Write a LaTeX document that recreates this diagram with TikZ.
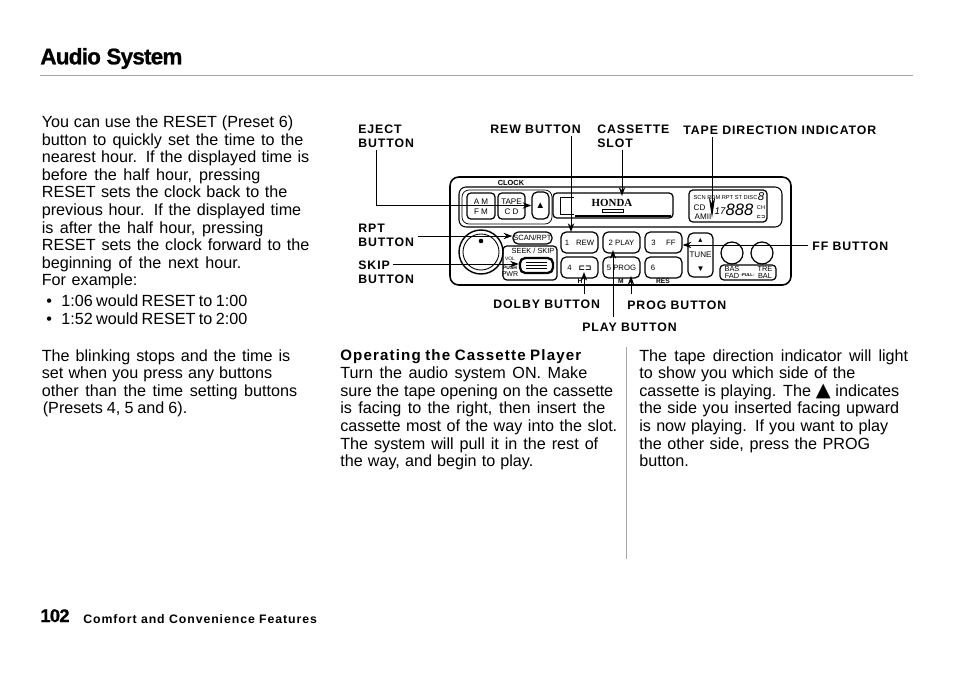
\documentclass[tikz,border=0pt]{standalone}
\usepackage{fontspec}
\setmainfont{Liberation Sans}
\newfontfamily\serifbold{Liberation Serif}
\newfontfamily\symfont{DejaVu Sans}
\newfontfamily\lblfont[LetterSpace=7.5]{Liberation Sans}
\newfontfamily\heavyfont[BoldFeatures={FakeBold=1},LetterSpace=-3.5]{Liberation Sans}
\usepackage{tikz}
\usetikzlibrary{shapes,positioning,arrows.meta}
\newcommand{\fitw}[2]{\makebox[\dimexpr#1pt*569/1000\relax][s]{#2}}
\tikzset{
  txt/.style={anchor=base west,inner sep=0pt,font=\fontsize{9.2}{10}\selectfont},
  head/.style={txt,font=\fontsize{8.6}{10}\lblfont\bfseries},
  lbl/.style={anchor=base west,inner sep=0pt,font=\fontsize{7}{8}\lblfont\bfseries},
  arr/.style={-{Stealth[length=5pt,width=3.6pt]},line width=0.55pt},
  arrlong/.style={-{Stealth[length=12pt,width=3.6pt]},line width=0.55pt},
  box/.style={draw,rounded corners=2.2pt,line width=0.7pt,inner sep=0pt},
  key/.style={box,rounded corners=3pt,minimum width=37*0.569pt,minimum height=21*0.569pt,font=\fontsize{4.4}{5}\selectfont},
  tiny/.style={inner sep=0pt,font=\fontsize{4.6}{5}\selectfont}
}
\begin{document}
\begin{tikzpicture}[x=0.02cm,y=-0.02cm]
    \useasboundingbox (0,0) rectangle (960,676);
    % page header and footer
    \node[anchor=base west,inner sep=0pt,font=\fontsize{12.8}{14}\heavyfont\bfseries] (title)at (40,64.3) {Audio System};
    \draw [gray!70,line width=0.5pt] (40,75.7) -- (913,75.7);
    \node[anchor=base west,inner sep=0pt,font=\fontsize{10.4}{12}\heavyfont\bfseries] (pageno)at (40,622) {102};
    \node[anchor=base west,inner sep=0pt,font=\fontsize{7}{8}\lblfont\bfseries] (footer)at (83,623.5) {Comfort and Convenience Features};
    \draw [gray!70,line width=0.4pt] (626.5,347) -- (626.5,559);

    % left column
    \node[txt] (l1)at (41.5,127.5) {\fitw{251.5}{You can use the RESET (Preset 6)}};
    \node[txt] (l2)at (41.5,145.1) {\fitw{261.5}{button to quickly set the time to the}};
    \node[txt] (l3)at (41.5,162.7) {\fitw{267.5}{nearest hour. If the displayed time is}};
    \node[txt] (l4)at (41.5,180.3) {\fitw{218.5}{before the half hour, pressing}};
    \node[txt] (l5)at (41.5,197.9) {\fitw{245.5}{RESET sets the clock back to the}};
    \node[txt] (l6)at (41.5,215.5) {\fitw{259.5}{previous hour. If the displayed time}};
    \node[txt] (l7)at (41.5,233.1) {\fitw{221.5}{is after the half hour, pressing}};
    \node[txt] (l8)at (41.5,250.7) {\fitw{267.5}{RESET sets the clock forward to the}};
    \node[txt] (l9)at (41.5,268.3) {\fitw{199.5}{beginning of the next hour.}};
    \node[txt] (l10)at (41.5,285.9) {\fitw{95.5}{For example:}};
    \node[txt] (b1)at (46,306.7) {•};
    \node[txt] (l11)at (61,306.7) {\fitw{186}{1:06 would RESET to 1:00}};
    \node[txt] (b2)at (46,324.3) {•};
    \node[txt] (l12)at (61,324.3) {\fitw{186}{1:52 would RESET to 2:00}};
    \node[txt] (l13)at (41.5,361) {\fitw{248.5}{The blinking stops and the time is}};
    \node[txt] (l14)at (41.5,378.6) {\fitw{230.5}{set when you press any buttons}};
    \node[txt] (l15)at (41.5,396.2) {\fitw{255.5}{other than the time setting buttons}};
    \node[txt] (l16)at (42.5,413.8) {\fitw{144.5}{(Presets 4, 5 and 6).}};

    % middle column
    \node[head] (m0)at (340,360.5) {\fitw{241}{Operating the Cassette Player}};
    \node[txt] (m1)at (340,378.6) {\fitw{247}{Turn the audio system ON. Make}};
    \node[txt] (m2)at (340,396.2) {\fitw{273}{sure the tape opening on the cassette}};
    \node[txt] (m3)at (340,413.8) {\fitw{265}{is facing to the right, then insert the}};
    \node[txt] (m4)at (340,431.4) {\fitw{277}{cassette most of the way into the slot.}};
    \node[txt] (m5)at (340,449) {\fitw{258}{The system will pull it in the rest of}};
    \node[txt] (m6)at (340,466.6) {\fitw{193}{the way, and begin to play.}};

    % right column
    \node[txt] (r1)at (639,361) {\fitw{269}{The tape direction indicator will light}};
    \node[txt] (r2)at (639,378.6) {\fitw{216}{to show you which side of the}};
    \node[txt] (r3)at (639,396.2) {\fitw{260}{cassette is playing. The {\fontsize{11}{11}\symfont ▲} indicates}};
    \node[txt] (r4)at (639,413.8) {\fitw{260}{the side you inserted facing upward}};
    \node[txt] (r5)at (639,431.4) {\fitw{249}{is now playing. If you want to play}};
    \node[txt] (r6)at (639,449) {\fitw{231}{the other side, press the PROG}};
    \node[txt] (r7)at (639,466.6) {button.};

    % radio
    \draw [line width=0.9pt,rounded corners=5pt] (450,177) rectangle (791,285);
    \draw [line width=0.6pt,rounded corners=4pt] (459,187) rectangle (782,227);
    \draw [line width=0.4pt,rounded corners=4pt] (462,190) rectangle (552,224);
    \node[tiny,font=\fontsize{4.2}{4}\bfseries\selectfont] (clock)at (511,183) {CLOCK};
    \draw [box] (467,193) rectangle (495,219);
    \draw [box] (498,193) rectangle (525,219);
    \node[tiny] (am)at (481,202) {A M};
    \node[tiny] (fm)at (481,212) {F M};
    \node[tiny] (tape)at (511.5,202) {TAPE};
    \node[tiny] (cd)at (511.5,212) {C D};
    \node[key,minimum width=17*0.569pt,minimum height=27*0.569pt,font=\fontsize{5.5}{5}\selectfont] (eject)at (540.5,205.5) {▲};
    \draw [box] (553,193) rectangle (673,218);
    \draw [line width=0.4pt] (560,197) -- (560,214) (560,197) -- (574,197) (560,214) -- (574,214);
    \node[tiny,font=\fontsize{6.2}{6}\serifbold\bfseries] (honda)at (612,203) {HONDA};
    \draw [line width=0.4pt] (602,209) rectangle (623,212);
    \draw [line width=1pt] (575,216) -- (671,216);

    % display
    \draw [box] (689,190) rectangle (767,222);
    \node[tiny,font=\fontsize{3.25}{3.5}\selectfont] (dsp1)at (725.5,198) {SCN RDM RPT ST DISC};
    \node[tiny,font=\fontsize{6.5}{6}\itshape] (dsp2)at (761,197) {8};
    \node[tiny,font=\fontsize{4.6}{5}\selectfont] (dsp3)at (699.5,208) {CD};
    \node[tiny,font=\fontsize{4.6}{5}\selectfont] (dsp4)at (703,217) {AMII};
    \node[tiny,font=\fontsize{5.5}{6}\itshape] (dsp7)at (720,211) {17};
    \node[tiny,font=\fontsize{9.4}{10}\itshape] (dsp5)at (739.5,209.5) {888};
    \node[tiny,font=\fontsize{3.2}{3}\selectfont] (dsp6)at (761,208) {CH};
    \node[tiny,font=\fontsize{2.8}{3}\symfont\bfseries] (dsp8)at (761,217.5) {⊏⊐};

    % lower controls
    \node[key,minimum width=39*0.569pt,minimum height=12*0.569pt,font=\fontsize{4.3}{4}\selectfont] (scan)at (532.5,238) {SCAN/RPT};
    \draw [line width=0.8pt] (481,252) circle (22);
    \draw [line width=0.5pt] (481,252) circle (18);
    \fill (481,241) circle (2.3);
    \draw [box] (503,246) rectangle (557,280);
    \node[tiny,font=\fontsize{4.2}{4}\selectfont] (seek)at (533,250.5) {SEEK / SKIP};
    \node[tiny,font=\fontsize{2.8}{3}\bfseries\selectfont] (push)at (510,268) {PUSH};
    \node[tiny,font=\fontsize{4}{4}\selectfont] (pwr)at (510,274) {PWR};
    \node[tiny,font=\fontsize{2.8}{3}\selectfont] (vol)at (510,259) {VOL};
    \node[key,line width=1.3pt,minimum width=33*0.569pt,minimum height=15*0.569pt] (skip)at (536.5,265.5) {};
    \draw [line width=0.4pt] (526,262) -- (547,262) (526,265) -- (547,265) (526,268) -- (547,268);
    \node[key] (rew)at (579.5,242.5) {1\hspace{4pt}REW};
    \node[key] (play)at (621.5,242.5) {2 PLAY};
    \node[key] (ff)at (663.5,242.5) {3\hspace{6pt}FF};
    \node[key] (four)at (579.5,267.5) {4\hspace{4pt}{\symfont\bfseries ⊏⊐}};
    \node[key] (prog)at (621.5,267.5) {5 PROG};
    \node[key] (six)at (663.5,267.5) {\hspace{-12pt}6};
    \node[key,minimum width=25*0.569pt,minimum height=44*0.569pt,font=\fontsize{4.6}{5}\selectfont,align=center] (tune)at (700.5,255) {{\symfont ▴}\\[3pt]TUNE\\[3pt]▼};
    \draw [line width=0.7pt] (732,253) circle (11);
    \draw [line width=0.7pt] (762,253) circle (11);
    \draw [box] (720,265) rectangle (776,280);
    \node[tiny,font=\fontsize{4.2}{4.3}\selectfont,align=center] (bas)at (732,272.5) {BAS\\FAD};
    \node[tiny,font=\fontsize{4.2}{4.3}\selectfont,align=center] (tre)at (765,272.5) {TRE\\BAL};
    \node[tiny,font=\fontsize{2.4}{3}\bfseries\selectfont] (pull)at (747.5,275) {-PULL-};
    \node[tiny,font=\fontsize{3.8}{4}\bfseries\selectfont] (hh)at (580,281.5) {H};
    \node[tiny,font=\fontsize{3.8}{4}\bfseries\selectfont] (mm)at (621,281.5) {M};
    \node[tiny,font=\fontsize{3.8}{4}\bfseries\selectfont] (res)at (663,281.5) {RES};

    % callouts
    \node[lbl] (ejectlbl)at (358,133) {EJECT};
    \node[lbl] (ejectlbl2)at (358,147) {BUTTON};
    \node[lbl] (rewlbl)at (490,133) {REW BUTTON};
    \node[lbl] (slotlbl)at (597,133) {CASSETTE};
    \node[lbl] (slotlbl2)at (597,147) {SLOT};
    \node[lbl] (tapelbl)at (683,134) {TAPE DIRECTION INDICATOR};
    \node[lbl] (rptlbl)at (358,232) {RPT};
    \node[lbl] (rptlbl2)at (358,246) {BUTTON};
    \node[lbl] (skiplbl)at (358,269) {SKIP};
    \node[lbl] (skiplbl2)at (358,283) {BUTTON};
    \node[lbl] (fflbl)at (812,250) {FF BUTTON};
    \node[lbl] (dolbylbl)at (493,308) {DOLBY BUTTON};
    \node[lbl] (proglbl)at (627,309) {PROG BUTTON};
    \node[lbl] (playlbl)at (582,331) {PLAY BUTTON};

    \coordinate (ejecttail)at (376,150);
    \coordinate (rewtail)at (571,136);
    \coordinate (rewtip)at (571,232);
    \coordinate (slottail)at (622,150);
    \coordinate (slottip)at (622,196);
    \coordinate (tapetail)at (712,137);
    \coordinate (tapetip)at (712,218);
    \coordinate (rpttail)at (418,236);
    \coordinate (skiptail)at (393,264);
    \coordinate (fftail)at (808,245);
    \coordinate (dolbytail)at (584,294);
    \coordinate (dolbytip)at (584,272);
    \coordinate (playtail)at (613,317);
    \coordinate (playtip)at (613,250);
    \coordinate (progtail)at (631,294);
    \coordinate (progtip)at (631,276);

    \draw [arr] (ejecttail) |- (eject.west);
    \draw [arr] (rewtail) to (rewtip);
    \draw [arr] (slottail) to (slottip);
    \draw [arrlong] (tapetail) to (tapetip);
    \draw [arr] (rpttail) to (rpttail -| scan.west);
    \draw [arr] (skiptail) to (skiptail -| skip.west);
    \draw [arr] (fftail) to (fftail -| ff.east);
    \draw [arr] (dolbytail) to (dolbytip);
    \draw [arr] (playtail) to (playtip);
    \draw [arr] (progtail) to (progtip);
\end{tikzpicture}
\end{document}
